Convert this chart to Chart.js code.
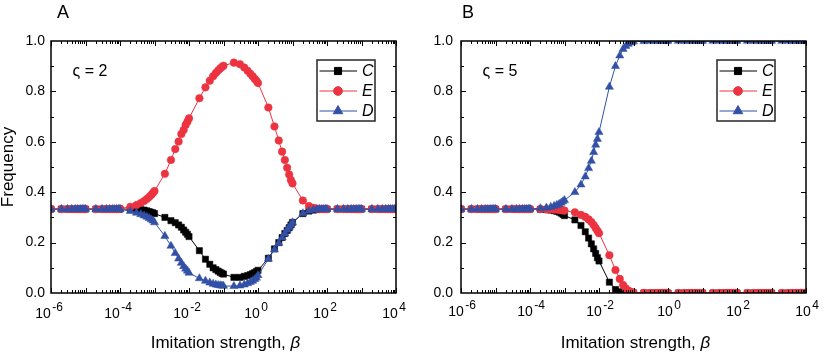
<!DOCTYPE html>
<html><head><meta charset="utf-8">
<script src="https://cdn.jsdelivr.net/npm/chart.js@4.4.0/dist/chart.umd.min.js"></script>
<style>
html,body{margin:0;padding:0;background:#fff;}
#wrap{position:relative;width:830px;height:354px;overflow:hidden;}
.p{position:absolute;top:0;width:415px;height:354px;}
#pa{left:0}#pb{left:415px}
</style></head><body>
<div id="wrap"><div class="p" id="pa"><canvas id="ca" width="415" height="354"></canvas></div><div class="p" id="pb"><canvas id="cb" width="415" height="354"></canvas></div></div>
<script>
// ---- data ----
const beta = [
 1e-6,2e-6,3e-6,4e-6,5e-6,6e-6,7e-6,8e-6,9e-6,
 1e-5,2e-5,3e-5,4e-5,5e-5,6e-5,7e-5,8e-5,9e-5,
 1e-4,2e-4,3e-4,4e-4,5e-4,6e-4,7e-4,8e-4,9e-4,
 1e-3,2e-3,3e-3,4e-3,5e-3,6e-3,7e-3,8e-3,9e-3,
 0.01,0.02,0.03,0.04,0.05,0.06,0.07,0.08,0.09,
 0.1,0.2,0.3,0.4,0.5,0.6,0.7,0.8,0.9,
 1,2,3,4,5,6,7,8,9,
 10,20,30,40,50,60,70,80,90,
 100,200,300,400,500,600,700,800,900,
 1000,2000,3000,4000,5000,6000,7000,8000,9000,
 10000];
const seriesNames = ['C','E','D'];
const xTickExponents = [-6,-4,-2,0,2,4];
const panelLabels = ['A','B'];
const zetaLabels = ['\u03C2 = 2','\u03C2 = 5'];

// Panel A (zeta = 2)
const panelA_C = [
 0.333,0.333,0.333,0.333,0.333,0.333,0.333,0.333,0.333,
 0.333,0.333,0.333,0.333,0.333,0.333,0.333,0.333,0.333,
 0.333,0.333,0.333,0.331,0.329,0.326,0.323,0.320,0.318,
 0.315,0.300,0.287,0.279,0.270,0.261,0.250,0.241,0.233,
 0.224,0.168,0.134,0.114,0.100,0.093,0.087,0.082,0.078,
 0.075,0.062,0.062,0.066,0.069,0.073,0.077,0.081,0.085,
 0.090,0.138,0.175,0.200,0.220,0.236,0.248,0.259,0.270,
 0.280,0.315,0.325,0.329,0.331,0.332,0.333,0.333,0.333,
 0.333,0.333,0.333,0.333,0.333,0.333,0.333,0.333,0.333,
 0.333,0.333,0.333,0.333,0.333,0.333,0.333,0.333,0.333,
 0.333];
const panelA_E = [
 0.333,0.333,0.333,0.333,0.333,0.333,0.333,0.333,0.333,
 0.333,0.333,0.333,0.333,0.333,0.333,0.333,0.333,0.333,
 0.335,0.342,0.349,0.357,0.365,0.373,0.381,0.389,0.397,
 0.405,0.473,0.528,0.571,0.601,0.631,0.647,0.667,0.680,
 0.693,0.773,0.816,0.842,0.860,0.873,0.883,0.891,0.897,
 0.902,0.914,0.908,0.895,0.882,0.870,0.860,0.850,0.842,
 0.833,0.736,0.661,0.605,0.561,0.528,0.497,0.470,0.448,
 0.435,0.367,0.345,0.338,0.335,0.334,0.333,0.333,0.333,
 0.333,0.333,0.333,0.333,0.333,0.333,0.333,0.333,0.333,
 0.333,0.333,0.333,0.333,0.333,0.333,0.333,0.333,0.333,
 0.333];
const panelA_D = [
 0.333,0.333,0.333,0.333,0.333,0.333,0.333,0.333,0.333,
 0.333,0.333,0.333,0.333,0.333,0.333,0.333,0.333,0.333,
 0.332,0.325,0.318,0.312,0.307,0.302,0.297,0.292,0.287,
 0.280,0.226,0.187,0.158,0.136,0.119,0.106,0.096,0.088,
 0.080,0.058,0.048,0.041,0.036,0.033,0.031,0.030,0.029,
 0.028,0.027,0.029,0.033,0.038,0.043,0.048,0.054,0.060,
 0.070,0.135,0.172,0.198,0.220,0.236,0.250,0.260,0.270,
 0.280,0.316,0.326,0.330,0.332,0.333,0.333,0.333,0.333,
 0.333,0.333,0.333,0.333,0.333,0.333,0.333,0.333,0.333,
 0.333,0.333,0.333,0.333,0.333,0.333,0.333,0.333,0.333,
 0.333];

// Panel B (zeta = 5)
const panelB_C = [
 0.333,0.333,0.333,0.333,0.333,0.333,0.333,0.333,0.333,
 0.333,0.333,0.333,0.333,0.333,0.333,0.333,0.333,0.333,
 0.333,0.332,0.331,0.329,0.327,0.324,0.321,0.317,0.312,
 0.307,0.290,0.268,0.243,0.218,0.195,0.175,0.157,0.140,
 0.127,0.043,0.014,0.005,0.002,0.001,0,0,0,
 0,0,0,0,0,0,0,0,0,
 0,0,0,0,0,0,0,0,0,
 0,0,0,0,0,0,0,0,0,
 0,0,0,0,0,0,0,0,0,
 0,0,0,0,0,0,0,0,0,
 0];
const panelB_E = [
 0.333,0.333,0.333,0.333,0.333,0.333,0.333,0.333,0.333,
 0.333,0.333,0.333,0.333,0.333,0.333,0.333,0.333,0.333,
 0.333,0.333,0.332,0.332,0.331,0.331,0.330,0.329,0.328,
 0.327,0.320,0.310,0.302,0.292,0.282,0.270,0.258,0.247,
 0.237,0.150,0.091,0.056,0.032,0.018,0.010,0.006,0.003,
 0.002,0.001,0,0,0,0,0,0,0,
 0,0,0,0,0,0,0,0,0,
 0,0,0,0,0,0,0,0,0,
 0,0,0,0,0,0,0,0,0,
 0,0,0,0,0,0,0,0,0,
 0];
const panelB_D = [
 0.333,0.333,0.333,0.333,0.333,0.333,0.333,0.333,0.333,
 0.333,0.333,0.333,0.333,0.333,0.333,0.333,0.333,0.333,
 0.334,0.336,0.338,0.341,0.345,0.349,0.353,0.358,0.363,
 0.368,0.400,0.430,0.462,0.495,0.524,0.559,0.588,0.611,
 0.638,0.818,0.900,0.942,0.968,0.980,0.988,0.993,0.996,
 0.998,0.999,1,1,1,1,1,1,1,
 1,1,1,1,1,1,1,1,1,
 1,1,1,1,1,1,1,1,1,
 1,1,1,1,1,1,1,1,1,
 1,1,1,1,1,1,1,1,1,
 1];

// ---- styling ----
const FONT = "'Liberation Sans', Arial, Helvetica, sans-serif";
const BLACK = '#000000', RED = '#ec3340', BLUE = '#3350a6';

function toXY(arr){ return beta.map((b,i)=>({x:b, y:arr[i]})); }

const decor = {
  id:'decor',
  afterDraw(chart, args, o){
    const ctx = chart.ctx, a = chart.chartArea, xs = chart.scales.x, ys = chart.scales.y;
    ctx.save();
    // frame
    ctx.strokeStyle = '#000'; ctx.lineWidth = 1.5;
    ctx.strokeRect(a.left, a.top, a.right - a.left, a.bottom - a.top);
    // inner ticks
    ctx.lineWidth = 1;
    ctx.beginPath();
    for (let k = -6; k <= 4; k++) {
      for (let m = 1; m <= 9; m++) {
        const v = m * Math.pow(10, k);
        if (v > 1.0001e4) break;
        const px = Math.round(xs.getPixelForValue(v)) + 0.5;
        const L = m === 1 ? 5 : 3;
        ctx.moveTo(px, a.bottom); ctx.lineTo(px, a.bottom - L);
        ctx.moveTo(px, a.top); ctx.lineTo(px, a.top + L);
      }
    }
    for (let i = 1; i < 10; i++) {
      const py = Math.round(ys.getPixelForValue(i / 10)) + 0.5;
      const L = i % 2 === 0 ? 5 : 3;
      ctx.moveTo(a.left, py); ctx.lineTo(a.left + L, py);
      ctx.moveTo(a.right, py); ctx.lineTo(a.right - L, py);
    }
    ctx.stroke();

    // x tick labels 10^k
    ctx.fillStyle = '#000';
    ctx.textBaseline = 'alphabetic';
    ctx.textAlign = 'left';
    xTickExponents.forEach(e => {
      const p = xs.getPixelForValue(Math.pow(10, e));
      const base = '10', ex = e < 0 ? '-' + Math.abs(e) : String(e);
      ctx.font = '14px ' + FONT;
      const wb = ctx.measureText(base).width;
      ctx.font = '12px ' + FONT;
      const we = ctx.measureText(ex).width;
      const x0 = p - (wb + we + 1.5) / 2 + o.tickShift;
      ctx.font = '14px ' + FONT;
      ctx.fillText(base, x0, o.tickBase);
      ctx.font = '12px ' + FONT;
      ctx.fillText(ex, x0 + wb + 1.5, o.tickBase - 7);
    });

    // x axis title
    const t1 = 'Imitation strength, ', t2 = '\u03B2';
    ctx.font = '17px ' + FONT;
    const w1 = ctx.measureText(t1).width;
    ctx.font = 'italic 17px ' + FONT;
    const w2 = ctx.measureText(t2).width;
    const cx = (a.left + a.right) / 2 + 2;
    const sx = cx - (w1 + w2) / 2;
    ctx.font = '17px ' + FONT;
    ctx.fillText(t1, sx, 348);
    ctx.font = 'italic 17px ' + FONT;
    ctx.fillText(t2, sx + w1, 348);

    // panel label
    ctx.font = '18px ' + FONT;
    ctx.fillText(o.panel, o.panelX, 18);

    // zeta annotation
    ctx.font = '16px ' + FONT;
    ctx.fillText(o.zeta, a.left + 21.5, 76);

    // legend box
    const bx = a.left + o.legX, by = 60, bw = 58, bh = 61;
    ctx.fillStyle = '#fff';
    ctx.fillRect(bx, by, bw, bh);
    ctx.strokeStyle = '#333'; ctx.lineWidth = 1.6;
    ctx.strokeRect(bx, by, bw, bh);
    chart.data.datasets.forEach((ds, i) => {
      const ry = by + 11 + i * 20;
      ctx.strokeStyle = ds.borderColor; ctx.lineWidth = 1;
      ctx.beginPath(); ctx.moveTo(bx + 2.5, ry); ctx.lineTo(bx + 40, ry); ctx.stroke();
      ctx.fillStyle = ds.backgroundColor; ctx.strokeStyle = ds.borderColor;
      Chart.helpers.drawPoint(ctx, {pointStyle: ds.pointStyle, radius: ds.pointRadius * 1.15, rotation: 0, borderWidth: 0.5}, bx + 21, ry);
      ctx.fillStyle = '#000';
      ctx.font = 'italic 16px ' + FONT;
      ctx.textBaseline = 'middle';
      ctx.fillText(ds.label, bx + 45, ry + 0.5);
      ctx.textBaseline = 'alphabetic';
    });
    ctx.restore();
  }
};

function makeChart(id, C, E, D, opt){
  const common = {borderWidth:1, pointBorderWidth:0.5, tension:0, fill:false};
  return new Chart(document.getElementById(id), {
    type:'line',
    data:{datasets:[
      Object.assign({label:seriesNames[0], data:toXY(C), borderColor:BLACK, backgroundColor:BLACK, pointBorderColor:BLACK, pointBackgroundColor:BLACK, pointStyle:'rect', pointRadius:4.4, order:2}, common),
      Object.assign({label:seriesNames[1], data:toXY(E), borderColor:RED, backgroundColor:RED, pointBorderColor:RED, pointBackgroundColor:RED, pointStyle:'circle', pointRadius:3.8, order:1}, common),
      Object.assign({label:seriesNames[2], data:toXY(D), borderColor:BLUE, backgroundColor:BLUE, pointBorderColor:BLUE, pointBackgroundColor:BLUE, pointStyle:'triangle', pointRadius:4.7, order:0}, common)
    ]},
    options:{
      responsive:false, animation:false, events:[],
      layout:{padding:{left:0, right:opt.padRight, top:41, bottom:0}},
      plugins:{legend:{display:false}, tooltip:{enabled:false}, decor:opt},
      scales:{
        x:{type:'logarithmic', min:1e-6, max:1e4,
           grid:{display:false, drawTicks:false}, border:{display:false},
           ticks:{display:false},
           afterFit(s){ s.height = 61; }},
        y:{min:0, max:1,
           grid:{display:false, drawTicks:false}, border:{display:false},
           ticks:{stepSize:0.2, padding:opt.yPad, color:'#000', autoSkip:false,
                  font:{family:FONT, size:14}, callback:v=>Number(v).toFixed(1)},
           title:{display:opt.yTitle, text:'Frequency', color:'#000', padding:0,
                  font:{family:FONT, size:17, lineHeight:1}},
           afterFit(s){ s.width = opt.yWidth; }}
      }
    },
    plugins:[decor]
  });
}

makeChart('ca', panelA_C, panelA_E, panelA_D,
  {padRight:19, yPad:6, yWidth:51, yTitle:true, panel:panelLabels[0], panelX:57, zeta:zetaLabels[0], legX:266, tickShift:-2, tickBase:318});
makeChart('cb', panelB_C, panelB_E, panelB_D,
  {padRight:24, yPad:8, yWidth:46, yTitle:false, panel:panelLabels[1], panelX:47, zeta:zetaLabels[1], legX:256, tickShift:1, tickBase:316});
</script>
</body></html>
